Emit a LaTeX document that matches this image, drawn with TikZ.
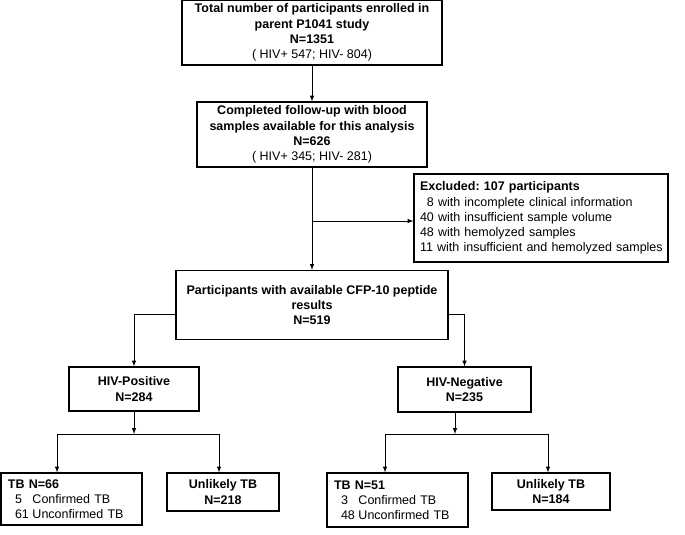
\documentclass[tikz,border=0pt]{standalone}
\usepackage{fontspec}
\setmainfont{Liberation Sans}
\frenchspacing
\begin{document}
\begin{tikzpicture}[
        x=1pt, y=-1pt, % координаты в пикселях исходника
        font=\fontsize{12.5}{15.2}\selectfont,
        box/.style = {draw, line width=1.1pt, inner sep=0pt, align=center, font=\fontsize{12.5}{15.2}\selectfont\bfseries}, % Стиль блоков
        lbox/.style = {box, align=left, inner xsep=7pt}, % блоки с текстом слева
        arr/.style = {draw, -latex, line width=1pt}, % Стиль стрелок
        line/.style = {draw, line width=1pt},
    ]
    \useasboundingbox (0,0) rectangle (685,535);

    \node[box, minimum width=260pt, minimum height=65pt] (total) at (312,32.5)
        {Total number of participants enrolled in\\ parent P1041 study\\ N=1351\\ \mdseries ( HIV+ 547; HIV- 804)};
    \node[box, minimum width=230pt, minimum height=65pt] (follow) at (312,134.5)
        {Completed follow-up with blood\\ samples available for this analysis\\ N=626\\ \mdseries ( HIV+ 345; HIV- 281)};
    \node[lbox, inner xsep=6pt, text width=242pt, minimum height=88pt] (excl) at (541,218)
        {Excluded: 107 participants\\ \mdseries \phantom{0}8 with incomplete clinical information\\ \mdseries 40 with insufficient sample volume\\ \mdseries 48 with hemolyzed samples\\ \mdseries \mbox{11 with insufficient and hemolyzed samples}};
    \node[box, minimum width=272pt, minimum height=69pt] (cfp) at (312,305)
        {Participants with available CFP-10 peptide\\ results\\ N=519};
    \node[box, minimum width=130pt, minimum height=44pt] (hivpos) at (134,389) {HIV-Positive\\ N=284};
    \node[box, minimum width=133pt, minimum height=45pt] (hivneg) at (464.5,389.5) {HIV-Negative\\ N=235};

    \node[lbox, text width=127pt, minimum height=52pt] (tbpos) at (71.5,499)
        {TB N=66\\ \mdseries\hspace{7pt}\makebox[17.5pt][l]{5}Confirmed TB\\ \mdseries\hspace{7pt}\makebox[17.5pt][l]{61}Unconfirmed TB};
    \node[box, minimum width=112pt, minimum height=38pt] (unpos) at (223,492) {Unlikely TB\\ N=218};
    \node[lbox, text width=127pt, minimum height=54pt] (tbneg) at (397.5,500)
        {TB N=51\\ \mdseries\hspace{7pt}\makebox[17.5pt][l]{3}Confirmed TB\\ \mdseries\hspace{7pt}\makebox[17.5pt][l]{48}Unconfirmed TB};
    \node[box, minimum width=118pt, minimum height=37pt] (unneg) at (551,491.5) {Unlikely TB\\ N=184};

    % развилки
    \coordinate (jexcl) at (312,221);
    \coordinate (jpos) at (134,434);
    \coordinate (jposl) at (57,434);
    \coordinate (jposr) at (219,434);
    \coordinate (jneg) at (455,434);
    \coordinate (jnegl) at (385,434);
    \coordinate (jnegr) at (548,434);

    \draw[arr] (total) -- (follow);
    \draw[arr] (follow) -- (cfp);
    \draw[arr] (jexcl) -- (jexcl -| excl.west);
    \draw[arr] ([yshift=-9pt]cfp.west) -| (hivpos.north);
    \draw[arr] ([yshift=-9pt]cfp.east) -| (hivneg.north);

    \draw[arr] (jpos |- hivpos.south) -- (jpos);
    \draw[line] (jposl) -- (jposr);
    \draw[arr] (jposl) -- (jposl |- tbpos.north);
    \draw[arr] (jposr) -- (jposr |- unpos.north);

    \draw[arr] (jneg |- hivneg.south) -- (jneg);
    \draw[line] (jnegl) -- (jnegr);
    \draw[arr] (jnegl) -- (jnegl |- tbneg.north);
    \draw[arr] (jnegr) -- (jnegr |- unneg.north);
\end{tikzpicture}
\end{document}
